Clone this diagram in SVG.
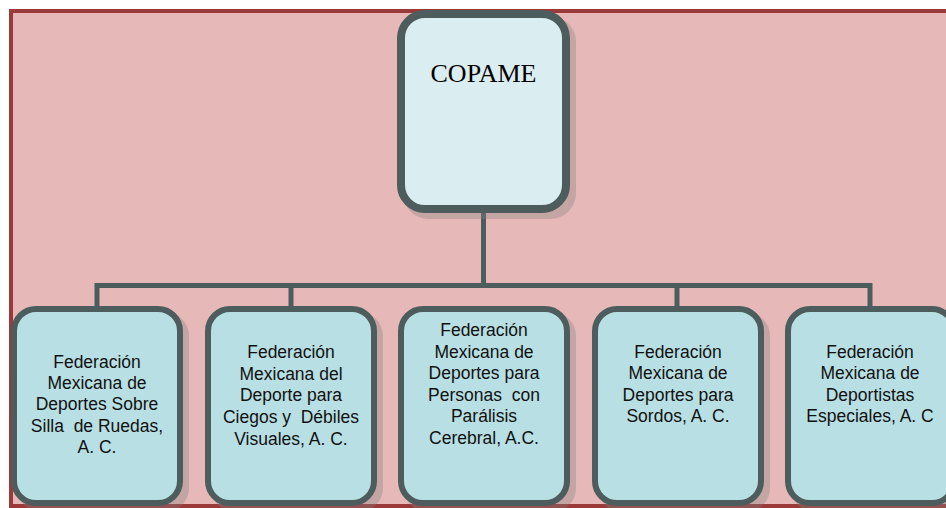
<svg xmlns="http://www.w3.org/2000/svg" width="946" height="508" viewBox="0 0 946 508">
<defs>
<style>
.bg{fill:#e6b8b7;stroke:#9c3a3a;stroke-width:4}
.shadow{fill:#808080;opacity:0.35}
.top{fill:#daedf0;stroke:#4d5c5c;stroke-width:8}
.child{fill:#b8dfe3;stroke:#4d5c5c;stroke-width:6}
.conn{fill:none;stroke:#4d5c5c;stroke-width:5}
.t{font-family:"Liberation Sans",Arial,sans-serif;font-size:17.5px;fill:#111;text-anchor:middle;white-space:pre}
.tt{font-family:"Liberation Serif","Times New Roman",serif;font-size:26px;fill:#000;text-anchor:middle}
</style>
</defs>
<rect class="bg" x="11" y="11" width="945" height="495"/>
<g id="connectors">
<path class="conn" d="M483.5 213 V285.5 M97 306 V285.5 H870 V306 M291 285.5 V306 M677 285.5 V306"/>
</g>
<g id="copame">
<rect class="shadow" x="403" y="16" width="173" height="203" rx="26"/>
<rect class="top" x="401" y="14" width="165" height="195" rx="24"/>
<text class="tt" x="483.5" y="82">COPAME</text>
</g>
<g id="n1">
<rect class="shadow" x="17" y="312" width="172" height="200" rx="24"/>
<rect class="child" x="14" y="309" width="166" height="194" rx="22"/>
<text class="t" x="97" y="368" xml:space="preserve">Federación<tspan x="97" dy="21.2">Mexicana de</tspan><tspan x="97" dy="21.2">Deportes Sobre</tspan><tspan x="97" dy="21.2">Silla  de Ruedas,</tspan><tspan x="97" dy="21.2">A. C.</tspan></text>
</g>
<g id="n2">
<rect class="shadow" x="211" y="312" width="172" height="200" rx="24"/>
<rect class="child" x="208" y="309" width="166" height="194" rx="22"/>
<text class="t" x="291" y="358" xml:space="preserve">Federación<tspan x="291" dy="21.7">Mexicana del</tspan><tspan x="291" dy="21.7">Deporte para</tspan><tspan x="291" dy="21.7">Ciegos y  Débiles</tspan><tspan x="291" dy="21.7">Visuales, A. C.</tspan></text>
</g>
<g id="n3">
<rect class="shadow" x="404" y="312" width="172" height="200" rx="24"/>
<rect class="child" x="401" y="309" width="166" height="194" rx="22"/>
<text class="t" x="484" y="336" xml:space="preserve">Federación<tspan x="484" dy="21.6">Mexicana de</tspan><tspan x="484" dy="21.6">Deportes para</tspan><tspan x="484" dy="21.6">Personas  con</tspan><tspan x="484" dy="21.6">Parálisis</tspan><tspan x="484" dy="21.6">Cerebral, A.C.</tspan></text>
</g>
<g id="n4">
<rect class="shadow" x="598" y="312" width="172" height="200" rx="24"/>
<rect class="child" x="595" y="309" width="166" height="194" rx="22"/>
<text class="t" x="678" y="358">Federación<tspan x="678" dy="21.4">Mexicana de</tspan><tspan x="678" dy="21.4">Deportes para</tspan><tspan x="678" dy="21.4">Sordos, A. C.</tspan></text>
</g>
<g id="n5">
<rect class="shadow" x="791" y="312" width="172" height="200" rx="24"/>
<rect class="child" x="788" y="309" width="166" height="194" rx="22"/>
<text class="t" x="870" y="358">Federación<tspan x="870" dy="21.4">Mexicana de</tspan><tspan x="870" dy="21.4">Deportistas</tspan><tspan x="870" dy="21.4">Especiales, A. C</tspan></text>
</g>
</svg>
